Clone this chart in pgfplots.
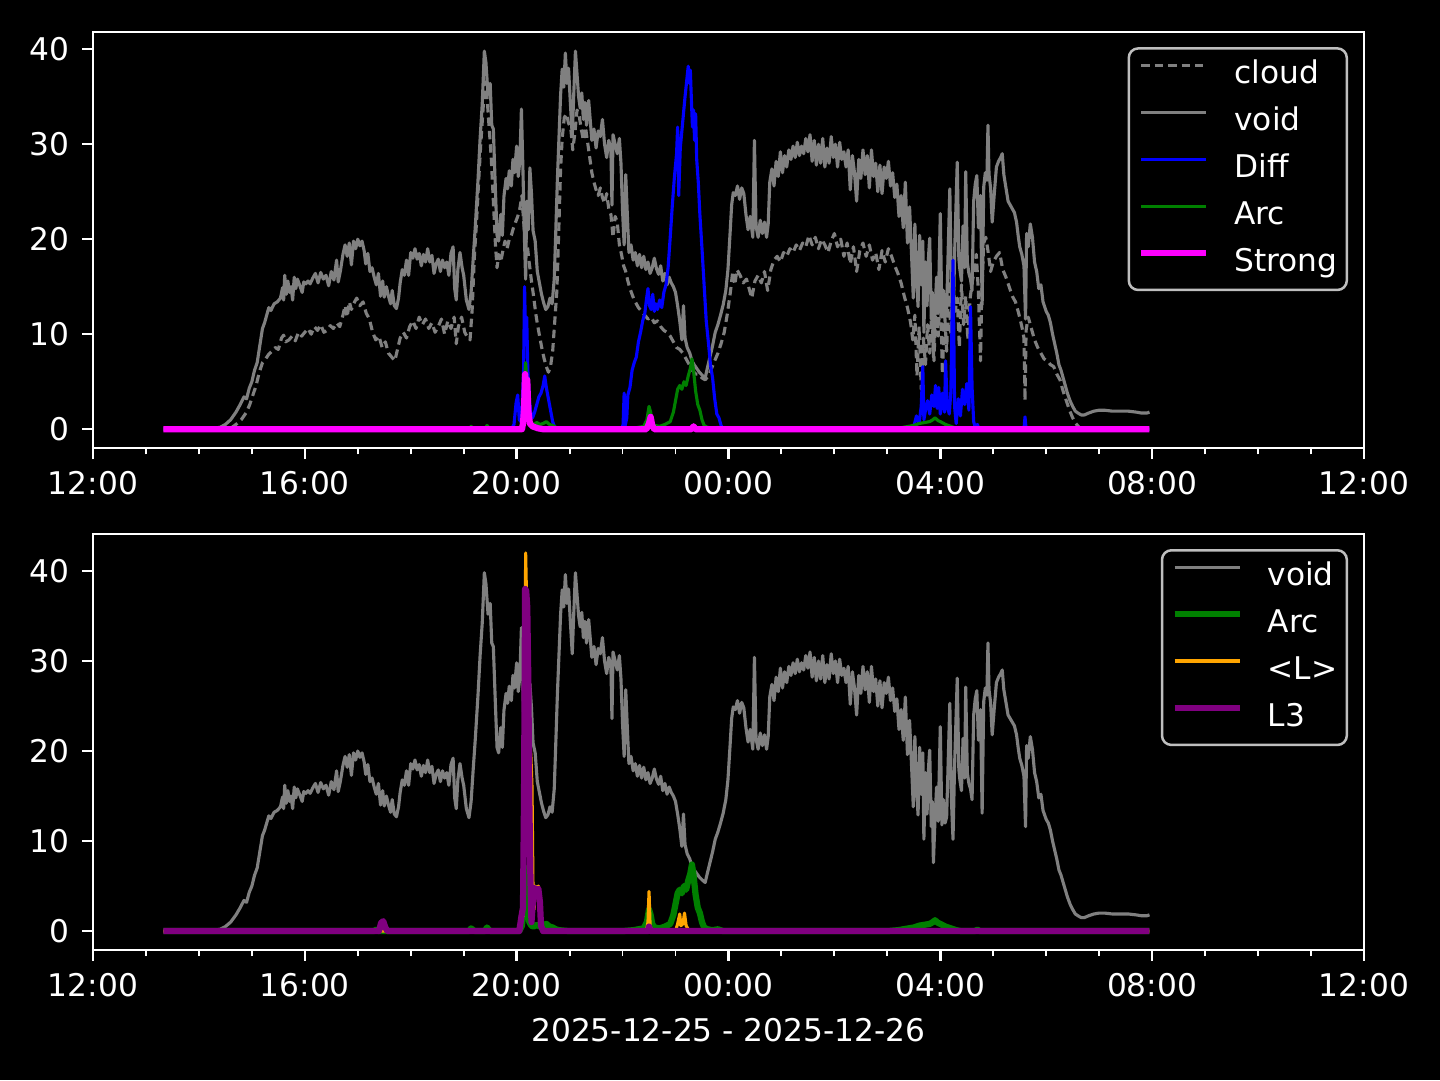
\documentclass[border=0pt]{standalone}
\usepackage{fontspec}
\setmainfont{DejaVu Sans}
\usepackage{pgfplots}
\usepackage{pgfplotstable}
\pgfplotsset{compat=1.18}

\definecolor{mgray}{HTML}{808080}
\definecolor{mblue}{HTML}{0000FF}
\definecolor{mgreen}{HTML}{008000}
\definecolor{mmagenta}{HTML}{FF00FF}
\definecolor{morange}{HTML}{FFA500}
\definecolor{mpurple}{HTML}{800080}
\definecolor{legframe}{HTML}{BEBEBE}

% hours after 12:00 on 2025-12-25
\pgfplotstableread{
h v
1.33 0
1.8 0
2.2 0.05
2.4 0.2
2.5 0.5
2.6 1.0
2.7 1.8
2.78 2.6
2.85 3.4
2.9 3.2
2.95 4.3
3.0 5.0
3.05 6.2
3.1 7.0
3.15 8.8
3.2 10.6
3.24 11.2
3.28 12.0
3.32 12.8
3.36 12.5
3.42 13.2
3.48 13.4
3.54 13.8
3.58 14.9
3.6 13.6
3.62 16.2
3.65 14.2
3.68 15.6
3.71 14.4
3.74 15.0
3.77 13.6
3.8 16.0
3.83 14.8
3.86 15.8
3.9 15.2
3.95 14.4
3.98 15.5
4.02 15.3
4.06 15.6
4.1 15.3
4.15 15.9
4.2 16.4
4.25 15.4
4.3 16.5
4.35 15.8
4.4 16.2
4.45 15.1
4.5 16.6
4.55 15.7
4.6 17.8
4.63 15.5
4.67 16.6
4.72 18.4
4.76 19.4
4.8 18.2
4.84 19.6
4.88 17.3
4.92 19.8
4.96 19.0
5.0 20.0
5.04 19.3
5.08 19.8
5.12 18.8
5.15 17.4
5.19 18.5
5.23 16.6
5.27 17.0
5.31 16.0
5.35 15.2
5.39 16.4
5.43 14.0
5.47 15.6
5.5 13.9
5.54 15.0
5.58 14.0
5.62 13.2
5.65 14.6
5.69 13.0
5.73 12.7
5.77 13.8
5.8 15.4
5.84 16.8
5.88 16.2
5.92 17.8
5.96 16.2
6.0 18.6
6.04 18.0
6.08 19.0
6.12 17.9
6.16 18.5
6.2 17.2
6.24 18.4
6.28 17.6
6.32 19.0
6.36 17.6
6.4 18.3
6.44 16.4
6.48 17.4
6.52 17.9
6.56 16.6
6.6 17.8
6.64 17.0
6.68 17.6
6.72 16.2
6.76 18.5
6.8 19.2
6.83 14.8
6.86 13.6
6.89 16.8
6.93 18.6
6.97 17.0
7.0 16.2
7.05 13.6
7.1 12.6
7.14 14.4
7.18 18.0
7.22 21.4
7.27 26.2
7.31 30.6
7.35 34.2
7.39 39.8
7.42 38.6
7.46 35.2
7.5 36.4
7.53 32.0
7.56 31.6
7.6 25.0
7.63 20.4
7.66 19.8
7.7 22.6
7.73 20.4
7.76 24.5
7.8 26.4
7.83 25.3
7.86 27.2
7.9 25.6
7.93 28.4
7.96 27.0
8.0 29.8
8.03 26.6
8.06 28.2
8.09 33.7
8.12 27.0
8.15 19.5
8.17 15.8
8.19 24.0
8.22 21.0
8.25 27.5
8.28 24.8
8.31 20.9
8.35 19.8
8.39 16.6
8.43 15.4
8.47 14.2
8.51 13.3
8.55 12.6
8.59 12.9
8.63 13.8
8.67 13.2
8.71 15.8
8.74 21.0
8.77 26.4
8.8 30.8
8.83 35.2
8.86 37.9
8.89 36.0
8.92 39.6
8.95 36.4
8.98 38.0
9.01 34.8
9.05 30.8
9.08 35.5
9.11 39.8
9.14 37.4
9.17 35.0
9.2 33.8
9.23 35.4
9.26 32.6
9.29 34.4
9.32 32.0
9.36 34.6
9.39 32.5
9.42 30.4
9.46 31.6
9.5 29.6
9.54 31.4
9.58 30.8
9.62 32.6
9.66 30.0
9.7 28.6
9.74 30.4
9.78 29.4
9.8 23.6
9.82 31.0
9.86 30.0
9.9 29.0
9.94 30.6
9.97 28.0
10.0 23.0
10.03 19.4
10.06 26.8
10.09 22.6
10.12 18.6
10.16 19.4
10.2 17.8
10.24 18.6
10.28 17.2
10.32 18.4
10.36 17.0
10.4 18.2
10.44 16.8
10.48 17.6
10.52 16.4
10.56 17.0
10.6 18.0
10.64 16.9
10.68 16.3
10.72 17.2
10.76 15.6
10.8 16.4
10.84 15.2
10.88 16.0
10.92 15.4
10.96 15.0
11.0 14.4
11.04 13.0
11.08 11.4
11.12 9.4
11.15 13.0
11.18 9.6
11.22 8.6
11.27 8.0
11.31 7.2
11.35 6.8
11.4 6.4
11.45 6.0
11.5 5.7
11.56 5.4
11.6 6.4
11.65 7.6
11.7 8.8
11.75 10.2
11.8 11.0
11.85 12.0
11.9 13.1
11.95 14.6
11.99 16.8
12.03 20.6
12.06 23.6
12.09 24.9
12.13 24.6
12.17 25.6
12.21 24.2
12.25 25.4
12.29 24.8
12.33 22.6
12.37 21.0
12.41 22.4
12.46 20.2
12.49 30.4
12.52 21.4
12.56 20.2
12.6 22.0
12.64 20.6
12.68 21.8
12.72 20.2
12.75 21.6
12.78 26.0
12.82 27.4
12.86 25.6
12.9 28.2
12.94 26.6
12.98 29.2
13.02 27.0
13.06 28.8
13.1 27.6
13.14 29.4
13.18 28.4
13.22 29.8
13.26 28.6
13.3 30.2
13.34 28.8
13.38 29.8
13.42 29.0
13.46 30.6
13.5 29.2
13.54 31.0
13.58 28.2
13.62 30.4
13.66 27.8
13.7 30.0
13.74 28.0
13.78 30.6
13.82 27.6
13.86 29.6
13.9 28.0
13.94 30.8
13.98 28.6
14.02 30.0
14.06 27.6
14.1 30.2
14.14 28.4
14.18 29.2
14.22 27.6
14.26 29.4
14.3 25.2
14.34 28.8
14.38 27.0
14.42 24.0
14.46 28.4
14.5 26.4
14.54 29.4
14.58 26.8
14.62 28.8
14.66 25.4
14.7 29.4
14.74 26.6
14.78 28.0
14.82 25.0
14.86 27.8
14.9 24.8
14.94 27.6
14.98 26.4
15.02 28.2
15.06 25.6
15.1 27.0
15.14 24.4
15.18 25.8
15.22 22.4
15.26 24.6
15.3 21.2
15.34 26.0
15.38 19.6
15.42 23.4
15.46 18.0
15.49 13.8
15.52 21.6
15.55 16.0
15.58 12.9
15.61 20.4
15.64 15.2
15.67 19.8
15.69 10.2
15.72 17.6
15.75 13.0
15.78 18.4
15.8 20.1
15.83 11.6
15.85 14.4
15.87 7.6
15.9 12.4
15.93 16.0
15.96 12.2
16.0 22.7
16.03 11.8
16.06 14.6
16.09 12.0
16.12 12.7
16.15 19.0
16.18 25.3
16.21 14.6
16.24 10.2
16.27 18.4
16.3 24.2
16.32 28.1
16.35 18.0
16.37 16.8
16.4 15.6
16.43 21.4
16.46 17.0
16.48 27.1
16.51 17.6
16.54 16.4
16.57 15.8
16.6 14.6
16.63 24.0
16.66 25.8
16.69 26.7
16.72 21.2
16.76 24.6
16.79 13.1
16.82 25.5
16.85 27.0
16.88 26.2
16.9 32.0
16.92 26.8
16.95 25.4
16.98 21.8
17.02 24.8
17.06 27.6
17.1 28.2
17.14 28.6
17.17 29.0
17.2 26.8
17.24 25.4
17.28 24.0
17.32 23.6
17.36 23.2
17.4 22.8
17.44 21.8
17.47 20.4
17.5 19.2
17.54 18.4
17.58 17.2
17.61 11.6
17.63 20.6
17.66 19.2
17.7 21.6
17.74 20.2
17.78 17.6
17.82 16.6
17.86 14.8
17.9 15.2
17.94 13.4
18.0 12.4
18.04 12.0
18.08 11.2
18.12 10.0
18.16 9.0
18.2 8.0
18.24 6.8
18.28 6.2
18.32 5.4
18.36 4.6
18.4 3.8
18.45 3.0
18.5 2.4
18.55 1.9
18.6 1.7
18.66 1.5
18.72 1.5
18.8 1.7
18.9 1.9
19.0 2.0
19.1 2.0
19.25 1.9
19.4 1.9
19.55 1.9
19.7 1.8
19.8 1.7
19.9 1.7
19.95 1.8
}\tvoid

\pgfplotstableread{
h v
1.33 0
2.5 0
2.6 0.1
2.7 0.5
2.8 1.0
2.9 1.8
2.96 2.6
3.02 3.6
3.08 4.6
3.14 6.0
3.2 7.0
3.26 7.4
3.32 7.9
3.38 8.2
3.44 8.6
3.5 8.4
3.56 9.6
3.6 9.9
3.64 9.2
3.7 9.4
3.76 9.8
3.82 9.3
3.88 10.2
3.94 9.8
4.0 10.2
4.06 10.6
4.12 10.0
4.18 10.8
4.24 10.4
4.3 11.0
4.36 10.2
4.42 10.4
4.48 10.9
4.54 10.6
4.6 11.2
4.66 10.8
4.72 12.0
4.76 13.0
4.8 11.8
4.84 13.4
4.88 12.6
4.92 13.2
4.98 13.8
5.04 13.0
5.1 13.4
5.16 12.2
5.22 11.6
5.28 10.2
5.34 9.4
5.4 9.8
5.46 8.6
5.52 9.2
5.58 8.0
5.64 7.6
5.7 7.2
5.75 8.4
5.8 9.6
5.86 10.2
5.92 9.6
5.98 10.8
6.04 11.4
6.1 10.6
6.16 11.8
6.22 11.0
6.28 11.6
6.34 10.6
6.4 11.2
6.46 10.2
6.52 10.8
6.58 11.6
6.64 10.0
6.7 11.4
6.76 10.6
6.82 11.8
6.86 9.0
6.9 10.8
6.96 11.8
7.02 10.2
7.08 9.6
7.12 9.4
7.16 12.6
7.2 18.0
7.24 21.6
7.28 25.8
7.32 29.8
7.36 33.2
7.4 36.6
7.44 35.0
7.48 31.8
7.52 28.6
7.56 24.0
7.6 19.4
7.63 17.0
7.66 18.4
7.7 17.6
7.74 18.8
7.78 19.8
7.82 19.0
7.86 20.0
7.9 20.4
7.94 21.2
7.98 21.8
8.02 22.4
8.06 23.2
8.1 24.6
8.13 22.0
8.16 20.0
8.2 19.4
8.24 17.4
8.28 15.6
8.32 14.0
8.36 12.2
8.4 10.8
8.44 9.6
8.48 8.4
8.52 7.4
8.56 6.6
8.6 6.0
8.64 6.6
8.68 8.2
8.72 11.4
8.76 14.6
8.8 21.8
8.83 27.4
8.86 30.6
8.9 32.8
8.94 33.2
8.98 32.2
9.02 31.8
9.06 29.4
9.1 31.2
9.14 33.6
9.18 33.0
9.22 31.6
9.26 30.4
9.3 31.8
9.34 30.2
9.38 28.6
9.42 27.0
9.46 26.0
9.5 25.2
9.54 24.6
9.58 25.4
9.62 24.4
9.66 23.8
9.7 24.8
9.74 23.2
9.78 22.6
9.82 20.2
9.86 22.4
9.9 21.8
9.94 19.4
9.98 18.4
10.02 17.2
10.06 16.6
10.1 15.6
10.14 14.8
10.18 14.2
10.22 13.6
10.26 13.2
10.3 12.8
10.36 12.4
10.42 12.0
10.48 11.6
10.54 11.8
10.6 11.2
10.66 11.4
10.72 10.8
10.78 10.4
10.84 10.2
10.9 9.8
10.96 9.2
11.02 8.6
11.08 8.4
11.14 8.0
11.2 7.4
11.26 6.8
11.32 6.2
11.38 5.8
11.44 5.8
11.5 5.4
11.56 5.2
11.62 5.6
11.68 6.4
11.74 7.2
11.8 8.0
11.86 9.0
11.92 10.2
11.98 12.2
12.04 14.6
12.08 16.6
12.12 15.2
12.16 16.8
12.22 16.2
12.28 15.4
12.34 15.8
12.4 14.6
12.44 13.8
12.5 15.6
12.56 16.2
12.62 15.4
12.68 16.6
12.74 14.6
12.8 16.8
12.86 17.8
12.92 18.2
12.98 17.6
13.04 18.6
13.1 18.2
13.16 19.0
13.22 18.6
13.28 19.4
13.34 18.8
13.4 19.6
13.46 19.2
13.52 20.4
13.58 19.4
13.64 20.2
13.7 19.0
13.76 20.0
13.82 19.4
13.88 18.6
13.94 19.8
14.0 20.6
14.06 19.2
14.12 20.0
14.18 18.2
14.24 19.6
14.3 17.4
14.36 19.2
14.42 16.6
14.48 18.8
14.54 19.6
14.6 18.2
14.66 19.4
14.72 17.8
14.78 18.6
14.84 16.8
14.9 18.8
14.96 17.6
15.02 19.0
15.08 18.2
15.14 17.2
15.2 16.4
15.26 15.4
15.32 14.0
15.38 12.8
15.44 11.2
15.48 9.4
15.52 12.0
15.56 5.6
15.6 10.8
15.64 4.2
15.68 9.6
15.72 6.8
15.76 11.0
15.8 8.0
15.84 12.6
15.88 7.2
15.92 13.4
15.96 9.8
16.0 14.6
16.04 5.8
16.08 12.4
16.12 8.2
16.16 15.6
16.2 10.0
16.24 15.8
16.28 12.4
16.32 13.8
16.36 8.6
16.4 15.2
16.44 11.0
16.48 14.0
16.52 9.4
16.56 13.6
16.6 15.4
16.64 16.6
16.68 18.4
16.72 14.4
16.76 7.2
16.78 13.8
16.82 19.6
16.86 20.2
16.9 18.8
16.95 16.6
17.0 17.6
17.06 18.2
17.12 18.6
17.18 16.8
17.24 16.0
17.3 15.0
17.36 14.0
17.42 13.4
17.48 12.2
17.54 10.8
17.58 9.6
17.6 3.0
17.62 10.4
17.66 11.8
17.72 10.6
17.78 9.4
17.84 8.6
17.9 8.0
17.96 7.4
18.02 7.2
18.08 6.8
18.14 6.6
18.2 5.8
18.26 5.2
18.32 4.0
18.38 3.0
18.44 2.0
18.5 1.2
18.56 0.6
18.62 0.2
18.7 0
19.95 0
}\tcloud

\pgfplotstableread{
h v
1.33 0
5.45 0
5.5 0.15
5.55 0
7.9 0
7.95 0.5
7.99 2.8
8.02 3.6
8.05 1.0
8.08 0.8
8.1 2.2
8.13 6.0
8.15 15.0
8.17 9.0
8.19 11.8
8.21 6.4
8.24 3.0
8.27 1.6
8.3 1.2
8.34 1.8
8.38 2.6
8.42 3.4
8.46 3.8
8.5 4.6
8.53 5.6
8.56 4.4
8.6 3.2
8.64 2.0
8.68 0.8
8.72 0.2
8.76 0
9.98 0
10.01 0.5
10.03 3.8
10.05 0.4
10.08 1.2
10.1 3.6
10.14 4.4
10.18 6.2
10.22 7.0
10.26 7.6
10.3 9.2
10.34 10.2
10.38 11.4
10.42 12.2
10.45 13.6
10.48 14.8
10.51 13.0
10.54 12.6
10.57 14.2
10.6 12.4
10.63 13.2
10.66 12.6
10.7 13.6
10.74 12.8
10.78 14.4
10.82 15.2
10.86 17.0
10.9 20.2
10.94 23.6
10.98 26.6
11.02 29.0
11.04 31.8
11.06 24.6
11.09 29.6
11.12 31.4
11.15 33.2
11.18 35.0
11.21 36.6
11.24 38.2
11.26 36.4
11.28 37.8
11.3 34.6
11.32 31.8
11.34 33.6
11.36 30.4
11.38 33.2
11.4 28.4
11.43 26.0
11.46 22.6
11.5 19.0
11.54 15.2
11.58 11.4
11.62 9.2
11.66 6.8
11.7 5.4
11.74 3.2
11.78 1.6
11.82 1.2
11.86 0.4
11.9 0
15.45 0
15.5 0.3
15.55 1.4
15.6 0.6
15.64 2.4
15.67 6.6
15.69 1.0
15.72 2.0
15.76 3.0
15.8 1.6
15.84 3.6
15.88 2.4
15.91 4.6
15.94 2.2
15.97 4.4
16.0 1.6
16.04 3.8
16.08 1.8
16.1 7.2
16.13 2.4
16.17 1.6
16.2 4.0
16.24 17.8
16.27 2.4
16.3 0.6
16.34 3.2
16.38 1.4
16.42 4.2
16.46 2.6
16.5 4.8
16.54 2.0
16.57 12.9
16.6 4.4
16.63 0.8
16.66 0.2
16.7 0.5
16.73 0
17.58 0
17.6 1.3
17.62 0
19.95 0
}\tdiff

\pgfplotstableread{
h v
1.33 0
5.3 0
5.35 0.15
5.4 0
7.1 0
7.14 0.3
7.18 0.1
7.22 0
7.4 0
7.44 0.4
7.48 0.1
7.52 0
8.05 0
8.1 0.6
8.13 2.2
8.15 5.4
8.17 7.0
8.19 5.2
8.21 2.4
8.24 1.0
8.28 0.6
8.32 0.5
8.38 0.7
8.44 0.5
8.5 0.6
8.56 0.8
8.62 0.5
8.68 0.4
8.74 0.2
8.8 0.1
9.0 0
10.0 0
10.2 0.1
10.4 0.3
10.46 1.0
10.5 2.4
10.53 1.8
10.56 0.8
10.6 0.4
10.7 0.3
10.8 0.5
10.9 0.8
10.96 1.8
11.0 3.0
11.04 4.2
11.08 4.6
11.12 4.2
11.16 5.0
11.2 4.6
11.24 5.6
11.28 6.4
11.31 7.4
11.34 6.2
11.38 4.0
11.42 2.6
11.46 2.0
11.5 1.0
11.54 0.4
11.6 0.2
11.7 0.1
11.8 0.2
11.9 0
15.0 0
15.2 0.1
15.4 0.3
15.5 0.4
15.6 0.6
15.7 0.7
15.8 0.8
15.86 1.0
15.9 1.2
15.96 0.9
16.0 0.8
16.1 0.5
16.2 0.3
16.3 0.1
16.4 0
16.65 0
16.7 0.15
16.75 0
19.95 0
}\tarc

\pgfplotstableread{
h v
1.33 0
8.1 0
8.12 0.6
8.14 2.2
8.16 5.8
8.18 4.6
8.2 5.2
8.22 2.0
8.25 0.6
8.3 0.3
8.4 0.1
8.5 0
10.45 0
10.5 0.6
10.53 1.3
10.56 0.4
10.6 0
11.3 0
11.34 0.3
11.38 0
19.95 0
}\tstrong

\pgfplotstableread{
h v
1.33 0
8.05 0
8.08 1.2
8.1 3.0
8.12 1.6
8.15 20.0
8.17 42.0
8.19 36.0
8.21 30.0
8.24 22.0
8.27 19.3
8.29 16.0
8.31 4.0
8.33 2.4
8.35 5.0
8.38 4.8
8.41 5.0
8.44 4.0
8.47 0.4
8.5 0
10.45 0
10.48 1.0
10.5 4.4
10.52 0.6
10.55 0
11.0 0
11.04 0.8
11.08 1.9
11.1 0.6
11.14 0.8
11.17 2.0
11.2 0.6
11.24 0.2
11.28 0
19.95 0
}\tlavg

\pgfplotstableread{
h v
1.33 0
5.4 0
5.44 0.9
5.48 1.1
5.52 0.4
5.56 0
8.05 0
8.09 1.6
8.12 2.6
8.14 15.0
8.16 38.0
8.18 37.8
8.2 36.0
8.22 28.0
8.24 14.0
8.26 6.0
8.28 1.0
8.31 3.6
8.34 4.8
8.37 4.6
8.41 4.7
8.44 3.2
8.46 0.6
8.5 0
10.48 0
10.5 0.5
10.53 0
19.95 0
}\tlthree

\pgfplotsset{
  panel/.style={
    scale only axis, width=406.7pt, height=133.1pt, anchor=south west,
    xmin=0, xmax=24,
    xtick={0,4,...,24},
    xticklabels={12:00,16:00,20:00,00:00,04:00,08:00,12:00},
    minor xtick={1,2,3,5,6,7,9,10,11,13,14,15,17,18,19,21,22,23},
    ytick={0,10,20,30,40}, yticklabels={0,10,20,30,40},
    axis line style={white, line width=0.8pt},
    tick align=outside, xtick pos=bottom, ytick pos=left,
    major tick length=3.5pt, minor tick length=2pt,
    every tick/.style={white, line width=0.8pt},
    every minor tick/.style={white, line width=0.6pt},
    tick label style={text=white, font=\fontsize{10}{12}\selectfont, inner sep=0pt},
    xticklabel style={anchor=north, yshift=-3.8pt},
    yticklabel style={anchor=east, xshift=-3.8pt},
    legend cell align=left,
    legend style={anchor=north east, fill=black, draw=legframe, line width=0.8pt,
      rounded corners=3pt, text=white, font=\fontsize{10}{12}\selectfont,
      inner xsep=3pt, inner ysep=4pt, row sep=5.7pt, column sep=8pt,
      nodes={inner sep=0pt, text height=7.3pt, text depth=2pt}},
    legend image code/.code={\draw[#1] (0pt,3.2pt) -- (20.8pt,3.2pt);},
    every axis plot/.append style={line join=round},
  }
}

\begin{document}
\begin{tikzpicture}
\fill[black] (0,0) rectangle (460.8pt,345.6pt);

\begin{axis}[panel, at={(29.76pt,202.2pt)}, ymin=-1.99, ymax=41.79,
  legend style={at={(rel axis cs:0.9875,0.964)}}]
\addplot[mgray, line width=1pt, dash pattern=on 2.7pt off 1.6pt] table[x=h,y=v] {\tcloud};
\addplot[mgray, line width=1pt] table[x=h,y=v] {\tvoid};
\addplot[mblue, line width=1pt] table[x=h,y=v] {\tdiff};
\addplot[mgreen, line width=1pt] table[x=h,y=v] {\tarc};
\addplot[mmagenta, line width=2pt] table[x=h,y=v] {\tstrong};
\legend{cloud, void, Diff, Arc, Strong}
\end{axis}

\begin{axis}[panel, at={(29.76pt,41.6pt)}, ymin=-2.1, ymax=44.1,
  legend style={at={(rel axis cs:0.9875,0.964)}},
  xlabel={2025-12-25 - 2025-12-26},
  xlabel style={at={(axis description cs:0.5,0)}, anchor=north, inner sep=0pt,
    yshift=-21.8pt, text=white, font=\fontsize{10}{12}\selectfont}]
\addplot[mgray, line width=1pt] table[x=h,y=v] {\tvoid};
\addplot[mgreen, line width=2pt] table[x=h,y=v] {\tarc};
\addplot[morange, line width=1pt] table[x=h,y=v] {\tlavg};
\addplot[mpurple, line width=2pt] table[x=h,y=v] {\tlthree};
\legend{void, Arc, <L>, L3}
\end{axis}
\end{tikzpicture}
\end{document}
